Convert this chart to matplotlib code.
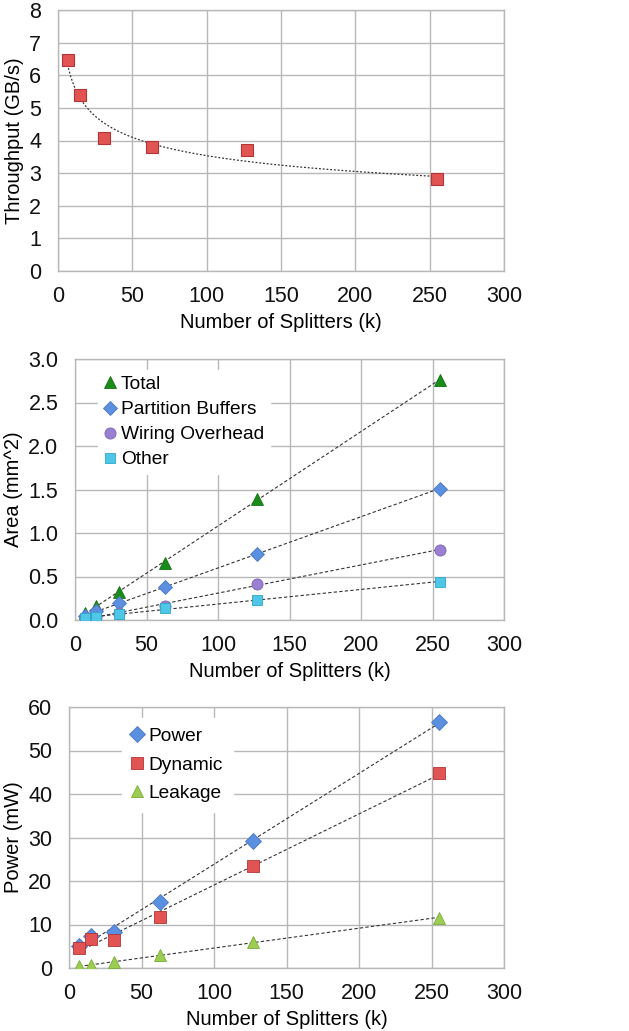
import numpy as np
import matplotlib
matplotlib.use("Agg")
import matplotlib.pyplot as plt
from matplotlib.ticker import FormatStrFormatter, MultipleLocator

plt.rcParams['font.family'] = ['Liberation Sans', 'DejaVu Sans']

# ---- data ----
splitters = [7, 15, 31, 63, 127, 255]

throughput = [6.46, 5.39, 4.09, 3.79, 3.71, 2.83]

area_total = [0.08, 0.165, 0.32, 0.66, 1.39, 2.76]
area_partition = [0.05, 0.10, 0.19, 0.38, 0.76, 1.51]
area_wiring = [0.02, 0.04, 0.08, 0.165, 0.41, 0.81]
area_other = [0.02, 0.035, 0.07, 0.134, 0.23, 0.44]

power_total = [5.1, 7.4, 8.3, 15.1, 29.3, 56.6]
power_dynamic = [4.5, 6.7, 6.5, 11.8, 23.4, 44.8]
power_leakage = [0.4, 0.6, 1.4, 3.0, 5.9, 11.6]

W, H = 629, 1031
fig = plt.figure(figsize=(W / 100, H / 100), dpi=100)

def add_axes(left, right, top, bottom):
    return fig.add_axes([left / W, 1 - bottom / H, (right - left) / W, (bottom - top) / H])

TFS = 15.5   # tick labels
LFS = 14.5   # axis labels
GFS = 13.8   # legend
GRID = '#b8b8b8'

def style(ax, ymax, ystep, ylabel, fmt=None):
    ax.set_xlim(0, 300)
    ax.set_ylim(0, ymax)
    ax.xaxis.set_major_locator(MultipleLocator(50))
    ax.yaxis.set_major_locator(MultipleLocator(ystep))
    if fmt:
        ax.yaxis.set_major_formatter(FormatStrFormatter(fmt))
    ax.grid(True, color=GRID, linewidth=1.0)
    ax.set_axisbelow(True)
    for s in ax.spines.values():
        s.set_color(GRID)
        s.set_linewidth(1.0)
    ax.tick_params(axis='y', length=0, labelsize=TFS, pad=12, colors='#111111')
    ax.tick_params(axis='x', length=0, labelsize=TFS, pad=11, colors='#111111')
    ax.set_xlabel('Number of Splitters (k)', fontsize=LFS, labelpad=4)
    ax.set_ylabel(ylabel, fontsize=LFS, labelpad=4)

x = np.array(splitters, dtype=float)
xfit = np.linspace(x.min(), x.max(), 200)

# ---- chart 1: throughput ----
ax1 = add_axes(58, 504, 10, 271)
style(ax1, 8, 1, 'Throughput (GB/s)')
b, a = np.polyfit(np.log(x), np.log(throughput), 1)
ax1.plot(xfit, np.exp(a) * xfit ** b, color='#333333', lw=0.9, ls=(0, (1.5, 1.5)), zorder=2)
ax1.plot(splitters, throughput, 's', ms=8.5, mfc='#e25454', mec='#b23434', mew=0.8, zorder=3)

# ---- chart 2: area ----
ax2 = add_axes(75, 504, 359, 620)
style(ax2, 3.0, 0.5, 'Area (mm^2)', '%.1f')
series2 = [
    (area_total, '^', '#1a8c1a', '#137013', 'Total', 9),
    (area_partition, 'D', '#5b8fe0', '#4a78c4', 'Partition Buffers', 7),
    (area_wiring, 'o', '#9a80d2', '#7d64b5', 'Wiring Overhead', 8),
    (area_other, 's', '#4ec6e8', '#2fa6c8', 'Other', 7.5),
]
for vals, m, fc, ec, lab, ms in series2:
    k, c = np.polyfit(x, vals, 1)
    ax2.plot(xfit, k * xfit + c, color='#333333', lw=0.8, ls=(0, (3, 2)), zorder=2)
for vals, m, fc, ec, lab, ms in series2:
    ax2.plot(splitters, vals, m, ms=ms, mfc=fc, mec=ec, mew=0.6, label=lab, zorder=3)
leg2 = ax2.legend(loc='upper left', bbox_to_anchor=(98 / W, 1 - 370 / H), bbox_transform=fig.transFigure,
                  fontsize=GFS, frameon=True, fancybox=False, edgecolor='white', framealpha=1,
                  handlelength=0.6, handletextpad=0.3, borderpad=0.3, labelspacing=0.4,
                  borderaxespad=0)

# ---- chart 3: power ----
ax3 = add_axes(69, 504, 707, 968)
style(ax3, 60, 10, 'Power (mW)')
series3 = [
    (power_total, 'D', '#5b8fe0', '#4a78c4', 'Power', 8.5),
    (power_dynamic, 's', '#e25454', '#b23434', 'Dynamic', 8),
    (power_leakage, '^', '#9ccd52', '#7aab36', 'Leakage', 8.5),
]
for vals, m, fc, ec, lab, ms in series3:
    k, c = np.polyfit(x, vals, 1)
    ax3.plot(xfit, k * xfit + c, color='#333333', lw=0.8, ls=(0, (3, 2)), zorder=2)
for vals, m, fc, ec, lab, ms in series3:
    ax3.plot(splitters, vals, m, ms=ms, mfc=fc, mec=ec, mew=0.6, label=lab, zorder=3)
leg3 = ax3.legend(loc='upper left', bbox_to_anchor=(122 / W, 1 - 718 / H), bbox_transform=fig.transFigure,
                  fontsize=GFS, frameon=True, fancybox=False, edgecolor='white', framealpha=1,
                  handlelength=0.6, handletextpad=0.3, borderpad=0.5, labelspacing=0.58,
                  borderaxespad=0)

fig.savefig('out.png', dpi=100)
